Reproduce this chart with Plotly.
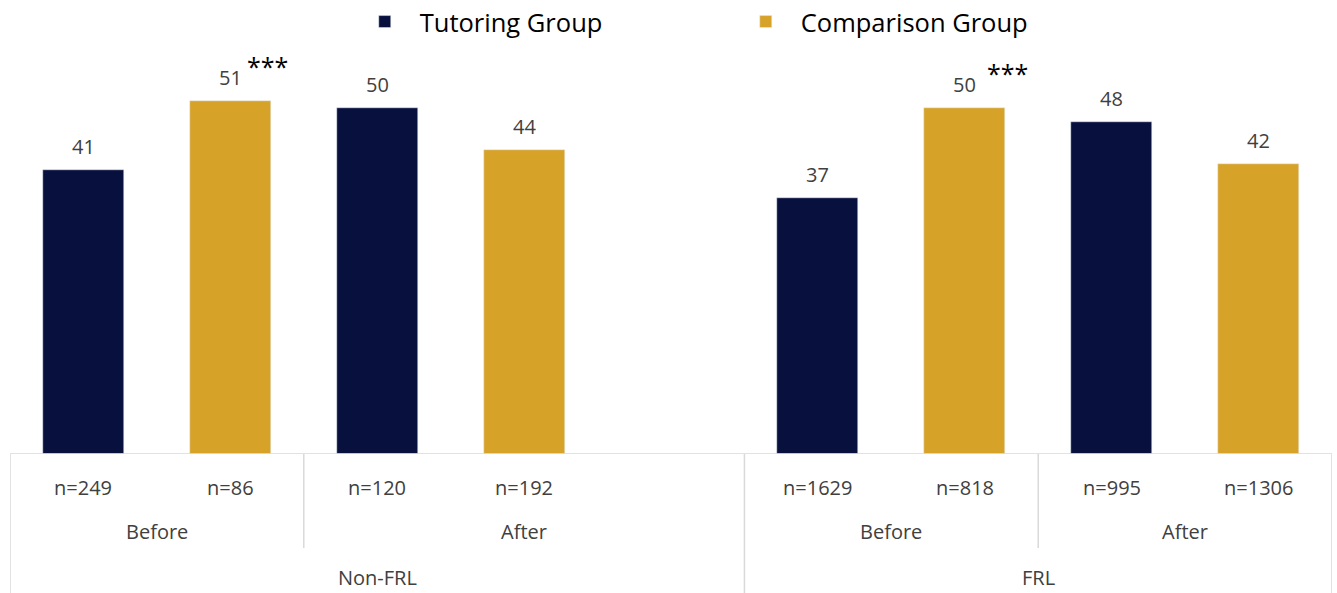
import plotly.graph_objects as go

# ---- data ----
groups = ["Non-FRL", "FRL"]
periods = ["Before", "After"]
series_names = ["Tutoring Group", "Comparison Group"]
tutoring = [41, 50, 37, 48]          # Non-FRL Before, Non-FRL After, FRL Before, FRL After
comparison = [51, 44, 50, 42]
tutoring_n = ["n=249", "n=120", "n=1629", "n=995"]
comparison_n = ["n=86", "n=192", "n=818", "n=1306"]
stars = ["***", "", "***", ""]       # significance markers on comparison bars

NAVY = "#08103d"
GOLD = "#d6a328"
LINE = "#d9d9d9"
LABEL = "#404040"
FONT = "Open Sans"

# slot layout: Non-FRL has Before(2 slots), After(2 slots + 1 empty); FRL Before(2), After(2)
def slots_for(gi, pi):
    base = 0 if gi == 0 else 5
    return base + pi * 2

t_x, c_x = [], []
for gi in range(len(groups)):
    for pi in range(len(periods)):
        s = slots_for(gi, pi)
        t_x.append(s)
        c_x.append(s + 1)

fig = go.Figure()
fig.add_trace(go.Bar(x=t_x, y=tutoring, name=series_names[0], marker_color=NAVY, width=0.55))
fig.add_trace(go.Bar(x=c_x, y=comparison, name=series_names[1], marker_color=GOLD, width=0.55))

annotations = []
for xs, vals in ((t_x, tutoring), (c_x, comparison)):
    for x, v in zip(xs, vals):
        annotations.append(dict(x=x, y=v, xref="x", yref="y", text=str(v), showarrow=False,
                                yanchor="bottom", yshift=8,
                                font=dict(family=FONT, size=20, color=LABEL)))
star_dx = [0.10, 0, 0.135, 0]
for x, v, s, dx in zip(c_x, comparison, stars, star_dx):
    if s:
        annotations.append(dict(x=x + dx, y=v, xref="x", yref="y", text=s, showarrow=False,
                                xanchor="left", yanchor="bottom", yshift=16,
                                font=dict(family=FONT, size=25, color="#000000")))

PH = 415.0  # plot height in px
def py(px_below):
    return -px_below / PH

# n labels
for xs, ns in ((t_x, tutoring_n), (c_x, comparison_n)):
    for x, n in zip(xs, ns):
        annotations.append(dict(x=x, y=py(33), xref="x", yref="paper", text=n, showarrow=False,
                                yanchor="middle", font=dict(family=FONT, size=20, color=LABEL)))
# period labels (centered on their span)
period_spans = [(-0.5, 1.5), (1.5, 4.5), (4.5, 6.5), (6.5, 8.5)]
for i, (a, b) in enumerate(period_spans):
    annotations.append(dict(x=(a + b) / 2, y=py(77), xref="x", yref="paper",
                            text=periods[i % 2], showarrow=False, yanchor="middle",
                            font=dict(family=FONT, size=20, color=LABEL)))
group_spans = [(-0.5, 4.5), (4.5, 8.5)]
for g, (a, b) in zip(groups, group_spans):
    annotations.append(dict(x=(a + b) / 2, y=py(123), xref="x", yref="paper",
                            text=g, showarrow=False, yanchor="middle",
                            font=dict(family=FONT, size=20, color=LABEL)))

shapes = [dict(type="line", xref="x", yref="y", x0=-0.5, x1=8.5, y0=0, y1=0,
               line=dict(color=LINE, width=1.5))]
for x in (-0.5, 4.5, 8.5):
    shapes.append(dict(type="line", xref="x", yref="paper", x0=x, x1=x, y0=0, y1=py(139),
                       line=dict(color=LINE, width=1.5)))
for x in (1.5, 6.5):
    shapes.append(dict(type="line", xref="x", yref="paper", x0=x, x1=x, y0=0, y1=py(94),
                       line=dict(color=LINE, width=1.5)))

fig.update_layout(
    width=1337, height=593,
    margin=dict(l=10, r=5, t=39, b=139, autoexpand=False),
    plot_bgcolor="white", paper_bgcolor="white",
    showlegend=True,
    legend=dict(orientation="h", x=0.257, y=1 + 17 / PH, xanchor="left", yanchor="middle",
                entrywidth=306, entrywidthmode="pixels", itemwidth=60,
                font=dict(family=FONT, size=25.5, color="#000000")),
    xaxis=dict(range=[-0.5, 8.5], showticklabels=False, showgrid=False, zeroline=False,
               showline=False, fixedrange=True),
    yaxis=dict(range=[0, 60], visible=False, showgrid=False, zeroline=False),
    annotations=annotations,
    shapes=shapes,
    bargap=0,
)

fig.write_html("out.html", config={"displayModeBar": False},
               post_script="document.body.style.margin='0';document.body.style.overflow='hidden';")
